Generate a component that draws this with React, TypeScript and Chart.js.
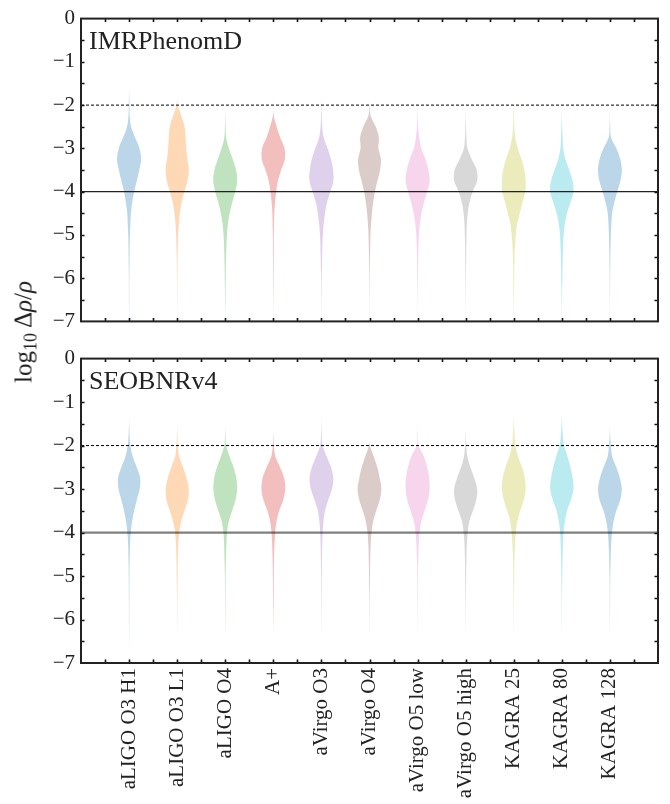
import React, { useEffect, useRef } from "react";
import { Chart, registerables } from "chart.js";

Chart.register(...registerables);

const CATEGORIES = [
  "aLIGO O3 H1",
  "aLIGO O3 L1",
  "aLIGO O4",
  "A+",
  "aVirgo O3",
  "aVirgo O4",
  "aVirgo O5 low",
  "aVirgo O5 high",
  "KAGRA 25",
  "KAGRA 80",
  "KAGRA 128",
];

const COLORS = [
  "#1f77b4", "#ff7f0e", "#2ca02c", "#d62728", "#9467bd", "#8c564b",
  "#e377c2", "#7f7f7f", "#bcbd22", "#17becf", "#1f77b4",
];

const PANEL_TITLES = ["IMRPhenomD", "SEOBNRv4"];

const Y_TICKS = [0, -1, -2, -3, -4, -5, -6, -7];
const DASHED_LEVEL = -2;
const SOLID_LEVEL = -4;

// log10 Δρ/ρ sample levels at which violin widths (normalised to max = 1) are read
const Y_GRID = [
  -1.25, -1.5, -1.75, -2, -2.25, -2.5, -2.75, -3, -3.25, -3.5, -3.75, -4,
  -4.25, -4.5, -4.75, -5, -5.25, -5.5, -5.75, -6, -6.25, -6.5, -6.75, -7,
];

// IMRPhenomD panel
const IMR_WIDTHS = [
  [0, 0, 0.01, 0.03, 0.05, 0.17, 0.5, 0.86, 1.0, 0.85, 0.64, 0.42, 0.26, 0.15, 0.11, 0.07, 0.05, 0.04, 0.03, 0.02, 0.015, 0.015, 0.01, 0],
  [0, 0, 0, 0.05, 0.35, 0.62, 0.7, 0.75, 0.85, 0.97, 0.86, 0.6, 0.37, 0.22, 0.14, 0.08, 0.06, 0.04, 0.03, 0.02, 0.015, 0.01, 0.005, 0],
  [0, 0, 0, 0, 0.01, 0.03, 0.08, 0.3, 0.62, 0.9, 1.0, 0.83, 0.58, 0.36, 0.22, 0.14, 0.1, 0.07, 0.05, 0.04, 0.03, 0.02, 0.01, 0],
  [0, 0, 0, 0, 0.04, 0.28, 0.57, 0.93, 0.96, 0.65, 0.39, 0.24, 0.14, 0.08, 0.06, 0.04, 0.035, 0.03, 0.025, 0.02, 0.015, 0.01, 0.005, 0],
  [0, 0, 0, 0.01, 0.03, 0.07, 0.19, 0.51, 0.8, 0.97, 1.0, 0.74, 0.46, 0.3, 0.19, 0.12, 0.08, 0.06, 0.045, 0.03, 0.02, 0.015, 0.01, 0],
  [0, 0, 0, 0.01, 0.1, 0.52, 0.78, 0.74, 0.95, 0.88, 0.66, 0.45, 0.3, 0.2, 0.13, 0.08, 0.06, 0.04, 0.03, 0.02, 0.015, 0.01, 0.005, 0],
  [0, 0, 0, 0, 0.02, 0.05, 0.14, 0.3, 0.65, 0.9, 1.0, 0.79, 0.53, 0.32, 0.19, 0.11, 0.07, 0.05, 0.04, 0.03, 0.02, 0.01, 0.005, 0],
  [0, 0, 0, 0, 0.01, 0.03, 0.06, 0.14, 0.5, 0.92, 0.96, 0.58, 0.32, 0.17, 0.1, 0.07, 0.05, 0.04, 0.03, 0.02, 0.015, 0.01, 0.005, 0],
  [0, 0, 0, 0.01, 0.03, 0.05, 0.14, 0.33, 0.65, 0.88, 0.99, 0.96, 0.72, 0.5, 0.28, 0.17, 0.1, 0.07, 0.05, 0.04, 0.03, 0.02, 0.01, 0],
  [0, 0, 0, 0, 0.01, 0.03, 0.07, 0.12, 0.3, 0.62, 0.89, 0.97, 0.71, 0.43, 0.25, 0.15, 0.11, 0.08, 0.06, 0.05, 0.03, 0.02, 0.01, 0],
  [0, 0, 0, 0, 0.01, 0.03, 0.1, 0.53, 0.86, 0.99, 0.88, 0.61, 0.36, 0.18, 0.12, 0.08, 0.06, 0.04, 0.03, 0.02, 0.015, 0.01, 0.005, 0],
];

// SEOBNRv4 panel
const SEOB_WIDTHS = [
  [0, 0.01, 0.04, 0.11, 0.3, 0.64, 0.92, 0.88, 0.64, 0.42, 0.25, 0.14, 0.08, 0.06, 0.04, 0.03, 0.025, 0.02, 0.015, 0.015, 0.01, 0.005, 0, 0],
  [0, 0, 0.02, 0.06, 0.17, 0.49, 0.78, 0.96, 0.89, 0.61, 0.33, 0.17, 0.1, 0.07, 0.05, 0.04, 0.03, 0.02, 0.015, 0.01, 0.005, 0, 0, 0],
  [0, 0, 0.02, 0.08, 0.36, 0.69, 0.92, 0.99, 0.85, 0.57, 0.29, 0.15, 0.1, 0.07, 0.05, 0.03, 0.025, 0.02, 0.015, 0.01, 0.005, 0, 0, 0],
  [0, 0, 0.01, 0.05, 0.17, 0.56, 0.9, 0.99, 0.82, 0.49, 0.26, 0.15, 0.1, 0.07, 0.05, 0.04, 0.035, 0.03, 0.02, 0.01, 0.005, 0, 0, 0],
  [0, 0.01, 0.03, 0.11, 0.44, 0.8, 0.99, 0.88, 0.57, 0.3, 0.17, 0.1, 0.07, 0.05, 0.04, 0.03, 0.025, 0.02, 0.015, 0.01, 0.005, 0, 0, 0],
  [0, 0, 0, 0.04, 0.35, 0.65, 0.85, 0.99, 0.85, 0.56, 0.3, 0.17, 0.1, 0.07, 0.05, 0.04, 0.03, 0.02, 0.015, 0.01, 0.005, 0, 0, 0],
  [0, 0, 0.02, 0.08, 0.53, 0.8, 0.97, 1.0, 0.86, 0.58, 0.3, 0.17, 0.1, 0.07, 0.04, 0.03, 0.025, 0.02, 0.015, 0.01, 0.005, 0, 0, 0],
  [0, 0, 0.01, 0.05, 0.14, 0.39, 0.72, 0.96, 0.88, 0.6, 0.3, 0.17, 0.1, 0.07, 0.05, 0.04, 0.03, 0.02, 0.015, 0.01, 0.005, 0, 0, 0],
  [0, 0.02, 0.07, 0.14, 0.36, 0.69, 0.92, 0.99, 0.83, 0.54, 0.29, 0.17, 0.11, 0.07, 0.05, 0.04, 0.03, 0.02, 0.015, 0.01, 0.005, 0, 0, 0],
  [0, 0.03, 0.08, 0.19, 0.47, 0.72, 0.9, 0.97, 0.75, 0.43, 0.25, 0.14, 0.1, 0.07, 0.05, 0.04, 0.03, 0.02, 0.015, 0.01, 0.005, 0, 0, 0],
  [0, 0, 0.02, 0.08, 0.19, 0.53, 0.83, 0.99, 0.86, 0.53, 0.3, 0.17, 0.11, 0.07, 0.05, 0.03, 0.025, 0.02, 0.015, 0.01, 0.005, 0, 0, 0],
];

const FONT = "'Liberation Serif', 'Times New Roman', serif";
const HALF_WIDTH = 0.25;
const X_MIN = 0;
const X_MAX = CATEGORIES.length + 1;

function hexToRgba(hex: string, a: number) {
  const n = parseInt(hex.slice(1), 16);
  return `rgba(${(n >> 16) & 255},${(n >> 8) & 255},${n & 255},${a})`;
}

function violinPoints(pos: number, widths: number[]) {
  const right = Y_GRID.map((y, k) => ({ x: pos + HALF_WIDTH * widths[k], y }));
  const left = Y_GRID.map((y, k) => ({ x: pos - HALF_WIDTH * widths[k], y })).reverse();
  return [...right, ...left];
}

function buildDatasets(widthsSet: number[][], solidColor: string, solidWidth: number) {
  const violins = widthsSet.map((w, i) => ({
    data: violinPoints(i + 1, w),
    backgroundColor: hexToRgba(COLORS[i], 0.3),
    borderColor: "transparent",
    borderWidth: 0,
    pointRadius: 0,
    fill: "shape",
    tension: 0.35,
    order: 2,
  }));
  const dashed = {
    data: [{ x: X_MIN, y: DASHED_LEVEL }, { x: X_MAX, y: DASHED_LEVEL }],
    borderColor: "#000",
    borderWidth: 1,
    borderDash: [3, 2],
    pointRadius: 0,
    fill: false,
    order: 1,
  };
  const solid = {
    data: [{ x: X_MIN, y: SOLID_LEVEL }, { x: X_MAX, y: SOLID_LEVEL }],
    borderColor: solidColor,
    borderWidth: solidWidth,
    pointRadius: 0,
    fill: false,
    order: 0,
  };
  return [...violins, dashed, solid];
}

const framePlugin = {
  id: "frameTicks",
  afterDatasetsDraw(chart: any) {
    const { ctx, chartArea, scales } = chart;
    const { left, right, top, bottom } = chartArea;
    const xs = scales.x;
    const ys = scales.y;
    const L = 3.5;
    ctx.save();
    ctx.strokeStyle = "#111";
    ctx.lineWidth = 1.6;
    ctx.beginPath();
    for (let v = X_MIN + 0.5; v < X_MAX; v += 0.5) {
      const px = Math.round(xs.getPixelForValue(v)) + 0.5;
      ctx.moveTo(px, top);
      ctx.lineTo(px, top + L);
      ctx.moveTo(px, bottom);
      ctx.lineTo(px, bottom - L);
    }
    for (let v = -6.5; v < 0; v += 0.5) {
      const py = Math.round(ys.getPixelForValue(v)) + 0.5;
      ctx.moveTo(left, py);
      ctx.lineTo(left + L, py);
      ctx.moveTo(right, py);
      ctx.lineTo(right - L, py);
    }
    ctx.stroke();
    ctx.lineWidth = 2;
    ctx.strokeStyle = "#222";
    ctx.strokeRect(left, top, right - left, bottom - top);
    const title = chart.options.plugins.frameTicks?.title;
    if (title) {
      ctx.fillStyle = "#222";
      ctx.font = `26px ${FONT}`;
      ctx.textBaseline = "alphabetic";
      ctx.textAlign = "left";
      ctx.fillText(title, left + 8, top + 30);
    }
    ctx.restore();
  },
};

function makeOptions(title: string, showX: boolean) {
  return {
    responsive: false,
    animation: false,
    devicePixelRatio: 1,
    layout: { padding: { left: 0, right: 12, top: 15, bottom: showX ? 0 : 17 } },
    plugins: {
      legend: { display: false },
      tooltip: { enabled: false },
      frameTicks: { title },
    },
    scales: {
      x: {
        type: "linear",
        min: X_MIN,
        max: X_MAX,
        display: showX,
        grid: { display: false, drawTicks: false },
        border: { display: false },
        afterBuildTicks: (scale: any) => {
          scale.ticks = CATEGORIES.map((_, i) => ({ value: i + 1 }));
        },
        afterFit: (scale: any) => {
          scale.height = showX ? 141 : 0;
        },
        ticks: {
          autoSkip: false,
          minRotation: 90,
          maxRotation: 90,
          padding: 5,
          color: "#222",
          font: { family: FONT, size: 21 },
          callback: (_v: any, i: number) => CATEGORIES[i],
        },
      },
      y: {
        type: "linear",
        min: Y_TICKS[Y_TICKS.length - 1],
        max: Y_TICKS[0],
        grid: { display: false, drawTicks: false },
        border: { display: false },
        afterBuildTicks: (scale: any) => {
          scale.ticks = Y_TICKS.map((v) => ({ value: v }));
        },
        afterFit: (scale: any) => {
          scale.width = 81;
        },
        ticks: {
          autoSkip: false,
          padding: 6,
          color: "#222",
          font: { family: FONT, size: 21 },
          callback: (v: number) => (v === 0 ? "0" : "\u2212" + Math.abs(v)),
        },
      },
    },
  };
}

function Panel({ widths, title, showX, solidColor, solidWidth, top, height }: any) {
  const ref = useRef<HTMLCanvasElement>(null);
  useEffect(() => {
    if (!ref.current) return;
    const chart = new Chart(ref.current, {
      type: "line",
      data: { datasets: buildDatasets(widths, solidColor, solidWidth) as any },
      options: makeOptions(title, showX) as any,
      plugins: [framePlugin],
    });
    return () => chart.destroy();
  }, []);
  return (
    <canvas
      ref={ref}
      width={670}
      height={height}
      style={{ position: "absolute", left: 0, top, width: 670, height }}
    />
  );
}

export default function App() {
  return (
    <div
      style={{
        position: "fixed",
        left: 0,
        top: 0,
        width: 670,
        height: 804,
        background: "#fff",
        overflow: "hidden",
      }}
    >
      <Panel widths={IMR_WIDTHS} title={PANEL_TITLES[0]} showX={false} solidColor="#222" solidWidth={1.3} top={0} height={340} />
      <Panel widths={SEOB_WIDTHS} title={PANEL_TITLES[1]} showX={true} solidColor="rgba(0,0,0,0.5)" solidWidth={2.3} top={340} height={464} />
      <div
        style={{
          position: "absolute",
          left: 25,
          top: 332,
          transform: "translate(-50%, -50%) rotate(-90deg)",
          whiteSpace: "nowrap",
          fontFamily: FONT,
          fontSize: 25,
          color: "#222",
          lineHeight: 1,
        }}
      >
        log<sub style={{ fontSize: 18, verticalAlign: "-5px" }}>10</sub>
        <span style={{ marginLeft: 5 }}>Δ</span>
        <i>ρ</i>/<i>ρ</i>
      </div>
    </div>
  );
}
